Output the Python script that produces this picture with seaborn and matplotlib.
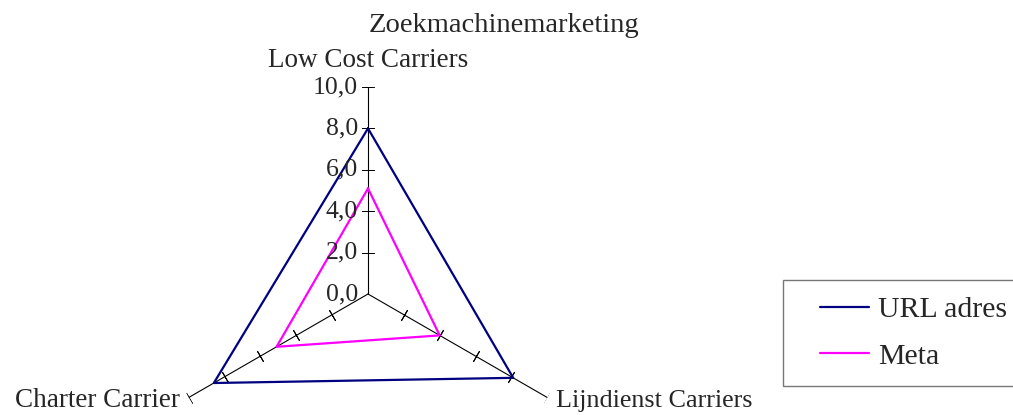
import numpy as np
import pandas as pd
import matplotlib
matplotlib.use('Agg')
import matplotlib.pyplot as plt
from matplotlib.lines import Line2D
from matplotlib.legend_handler import HandlerLine2D
import seaborn as sns

categories = ['Low Cost Carriers', 'Lijndienst Carriers', 'Charter Carrier']
url_adres = [8.0, 8.1, 8.6]
meta = [5.1, 4.0, 5.1]
series_names = ['URL adres', 'Meta']
r_ticks = [0, 2, 4, 6, 8, 10]
r_tick_labels = ['0,0', '2,0', '4,0', '6,0', '8,0', '10,0']

sns.set_theme(style='white')
plt.rcParams['font.family'] = ['Liberation Serif', 'DejaVu Serif']

angles = np.linspace(0, 2 * np.pi, len(categories), endpoint=False)
closed = np.append(angles, 2 * np.pi)

rows = []
for name, vals in zip(series_names, [url_adres, meta]):
    vv = vals + [vals[0]]
    for t, v in zip(closed, vv):
        rows.append({'theta': t, 'value': v, 'series': name})
df = pd.DataFrame(rows)

fig = plt.figure(figsize=(10.13, 4.15), dpi=100)
ax = fig.add_axes([161 / 1013, -86 / 415, 414 / 1013, 414 / 415], projection='polar')
ax.set_theta_offset(np.pi / 2)
ax.set_theta_direction(-1)
ax.grid(False)
ax.spines['polar'].set_visible(False)
ax.patch.set_alpha(0)

# axis spokes with perpendicular tick marks
tick_rot = [90, -30, 30]
for t, rot in zip(angles, tick_rot):
    ax.plot([t, t], [0, 10], color='black', lw=0.8, zorder=1)
    ax.plot([t] * len(r_ticks[1:]), r_ticks[1:], ls='none', marker=(2, 2, rot),
            markersize=9, markeredgewidth=0.7, color='black', zorder=1)

sns.lineplot(data=df, x='theta', y='value', hue='series', sort=False, estimator=None,
             units='series', palette=['#000080', '#FF00FF'], lw=1.6, ax=ax, legend=False)
ax.set_xlabel('')
ax.set_ylabel('')
ax.set_xticks([])
ax.set_yticks([])
ax.set_ylim(0, 10)

for r, lab in zip(r_ticks, r_tick_labels):
    ax.annotate(lab, xy=(0, r), xytext=(-10, 0), textcoords='offset pixels',
                ha='right', va='center', fontsize=18.5)

ax.annotate(categories[0], xy=(0, 10), xytext=(0, 14), textcoords='offset pixels',
            ha='center', va='bottom', fontsize=19.5)
ax.annotate(categories[1], xy=(angles[1], 10), xytext=(9, -3), textcoords='offset pixels',
            ha='left', va='center', fontsize=18.8)
ax.annotate(categories[2], xy=(angles[2], 10), xytext=(-9, -3), textcoords='offset pixels',
            ha='right', va='center', fontsize=19.5)

fig.text(0.497, 1 - 25 / 415, 'Zoekmachinemarketing', ha='center', va='center', fontsize=20.5)

handles = [Line2D([], [], color='#000080', lw=1.6),
           Line2D([], [], color='#FF00FF', lw=1.6)]
leg = fig.legend(handles, series_names, loc='upper left', bbox_to_anchor=(783 / 1013, 1 - 280 / 415),
                 frameon=True, fancybox=False, shadow=False, fontsize=21.5, handlelength=2.33,
                 labelspacing=0.65, borderpad=0.55, handletextpad=0.3, borderaxespad=0,
                 handler_map={Line2D: HandlerLine2D(xpad=0.69)})
leg.get_frame().set_edgecolor('#555555')
leg.get_frame().set_linewidth(1.0)

fig.savefig('out.png', dpi=100)
